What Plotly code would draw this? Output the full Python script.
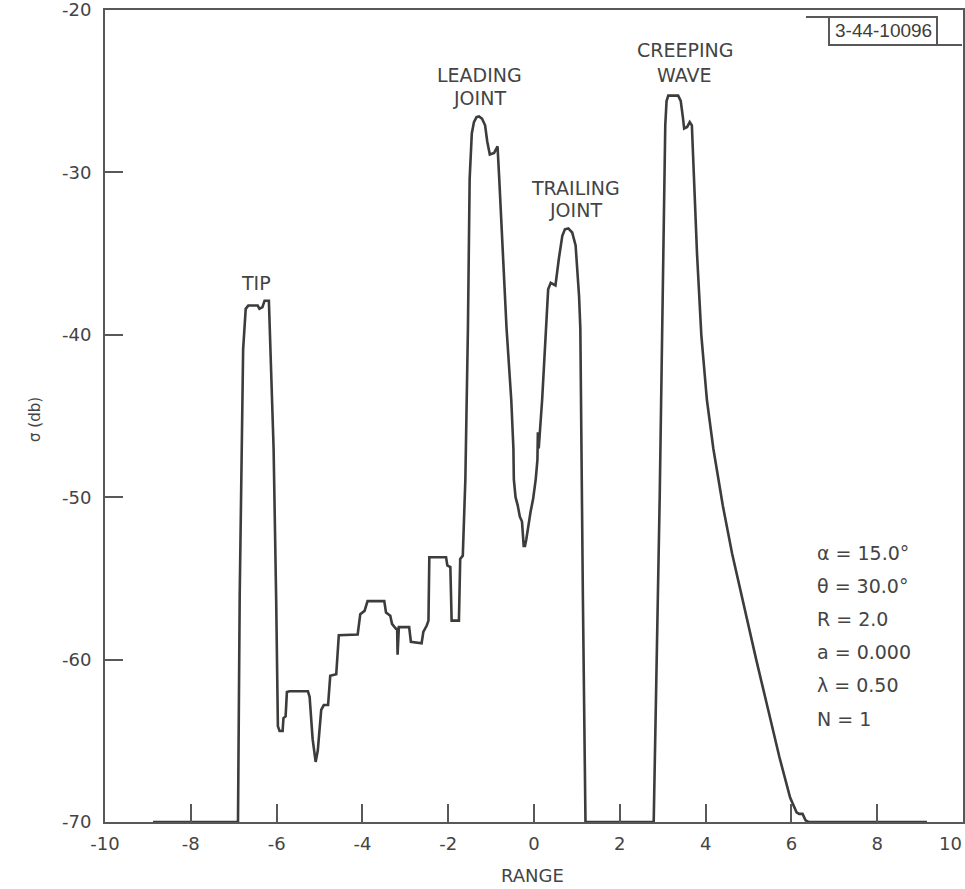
import plotly.graph_objects as go

# ---- data ----
range_vals = [
    -8.88, -6.90, -6.86, -6.82, -6.78, -6.72, -6.66, -6.44, -6.40, -6.33, -6.28, -6.18,
    -6.14, -6.07, -6.01, -5.97, -5.93, -5.86, -5.84, -5.79, -5.76, -5.70, -5.27, -5.23,
    -5.16, -5.09, -5.04, -4.96, -4.90, -4.80, -4.75, -4.61, -4.55, -4.11, -4.05, -3.95,
    -3.88, -3.49, -3.45, -3.35, -3.31, -3.22, -3.19, -3.18, -3.15, -2.91, -2.87, -2.62,
    -2.58, -2.50, -2.46, -2.44, -2.05, -2.02, -1.95, -1.92, -1.75, -1.72, -1.66, -1.60,
    -1.54, -1.50, -1.45, -1.40, -1.34, -1.28, -1.21, -1.14, -1.09, -1.03, -0.93, -0.85,
    -0.81, -0.74, -0.64, -0.53, -0.48, -0.47, -0.45, -0.43, -0.38, -0.33, -0.28, -0.24,
    -0.21, -0.18, -0.08, -0.02, 0.04, 0.08, 0.09, 0.11, 0.19, 0.285, 0.33, 0.39, 0.50,
    0.58, 0.66, 0.72, 0.80, 0.89, 0.97, 1.05, 1.08, 1.14, 1.20, 2.79, 2.93, 3.02, 3.06,
    3.09, 3.13, 3.36, 3.42, 3.47, 3.50, 3.57, 3.63, 3.68, 3.74, 3.80, 3.90, 4.03, 4.18,
    4.40, 4.62, 4.90, 5.18, 5.45, 5.72, 5.97, 6.12, 6.18, 6.26, 6.33, 6.40, 9.16,
]
sigma_db = [
    -70.0, -70.0, -56.0, -47.0, -40.9, -38.4, -38.2, -38.2, -38.4, -38.3, -37.9, -37.9,
    -40.9, -47.0, -56.3, -64.1, -64.4, -64.4, -63.6, -63.5, -62.0, -61.95, -61.95, -62.3,
    -64.9, -66.3, -65.6, -63.1, -62.8, -62.8, -61.0, -60.9, -58.5, -58.45, -57.2, -57.0,
    -56.4, -56.4, -57.1, -57.3, -57.8, -58.1, -58.1, -59.7, -58.0, -58.0, -58.9, -59.0,
    -58.3, -57.9, -57.6, -53.7, -53.7, -54.2, -54.3, -57.6, -57.6, -53.8, -53.6, -48.9,
    -39.6, -30.4, -27.6, -26.9, -26.6, -26.55, -26.7, -27.1, -28.1, -28.9, -28.8, -28.4,
    -30.4, -34.5, -39.6, -44.0, -47.0, -48.9, -49.6, -50.0, -50.5, -51.2, -51.5, -53.0,
    -53.0, -52.6, -50.9, -50.1, -48.9, -47.7, -46.0, -47.0, -44.0, -39.6, -37.2, -36.8,
    -36.96, -35.3, -33.9, -33.5, -33.45, -33.7, -34.5, -37.6, -39.6, -56.3, -70.0, -70.0,
    -50.0, -34.1, -27.1, -25.6, -25.27, -25.27, -25.6, -26.6, -27.3, -27.2, -26.9, -27.1,
    -31.2, -35.0, -40.0, -44.0, -47.0, -50.5, -53.5, -56.8, -60.0, -63.0, -66.0, -68.5,
    -69.4, -69.5, -69.5, -69.9, -70.0, -70.0,
]
x_ticks = [-10, -8, -6, -4, -2, 0, 2, 4, 6, 8, 10]
x_tick_labels = ["-10", "-8", "-6", "-4", "-2", "0", "2", "4", "6", "8", "10"]
y_ticks = [-70, -60, -50, -40, -30, -20]
y_tick_labels = ["-70", "-60", "-50", "-40", "-30", "-20"]

peak_labels = ["TIP", "LEADING", "JOINT", "TRAILING", "JOINT", "CREEPING", "WAVE"]
peak_label_x = [-6.48, -1.26, -1.28, 0.967, 0.956, 3.52, 3.50]
peak_label_y = [-36.81, -24.0, -25.42, -30.96, -32.32, -22.46, -24.0]

param_lines = ["α = 15.0°", "θ = 30.0°", "R = 2.0", "a = 0.000", "λ = 0.50", "N = 1"]
drawing_id = "3-44-10096"

# ---- styling ----
INK = "#3b3d3a"
AXIS = "#585858"
TEXT = "#444444"
FONT = "DejaVu Sans"

W, H = 965, 889
L, R, T, B = 105, 2, 10, 67
PW, PH = W - L - R, H - T - B


def px(xp):
    return (xp - L) / PW


def py(yp):
    return (H - B - yp) / PH


fig = go.Figure()
fig.add_trace(go.Scatter(
    x=range_vals, y=sigma_db, mode="lines",
    line=dict(color=INK, width=2.6), hoverinfo="skip", showlegend=False,
))

annotations = []
for t, xv, yv in zip(peak_labels, peak_label_x, peak_label_y):
    annotations.append(dict(x=xv, y=yv, xref="x", yref="y", text=t, showarrow=False,
                            font=dict(family=FONT, size=19, color=TEXT),
                            xanchor="center", yanchor="middle"))

param_y_px = [553, 586, 619, 652, 685, 719]
for t, yp in zip(param_lines, param_y_px):
    annotations.append(dict(x=px(815), y=py(yp), xref="paper", yref="paper", text=t,
                            showarrow=False, font=dict(family=FONT, size=19, color=TEXT),
                            xanchor="left", yanchor="middle"))

annotations.append(dict(x=px(883), y=py(31), xref="paper", yref="paper", text=drawing_id,
                        showarrow=False, font=dict(family="Liberation Sans", size=19, color="#3e3e36"),
                        xanchor="center", yanchor="middle"))
annotations.append(dict(x=px(532), y=py(875), xref="paper", yref="paper", text="RANGE",
                        showarrow=False, font=dict(family=FONT, size=18, color=TEXT),
                        xanchor="center", yanchor="middle"))
annotations.append(dict(x=px(35), y=py(420), xref="paper", yref="paper", text="σ (db)",
                        showarrow=False, textangle=-90,
                        font=dict(family=FONT, size=15, color=TEXT),
                        xanchor="center", yanchor="middle"))
# last x tick label sits at the very edge of the page: keep it fully inside
annotations.append(dict(x=px(964), y=py(844), xref="paper", yref="paper", text=x_tick_labels[-1],
                        showarrow=False, font=dict(family=FONT, size=18, color=TEXT),
                        xanchor="right", yanchor="middle", xshift=0))
shown_x_labels = x_tick_labels[:-1] + [""]

shapes = [
    dict(type="rect", xref="paper", yref="paper", x0=px(829), x1=px(937), y0=py(45), y1=py(17),
         line=dict(color=AXIS, width=2)),
    dict(type="line", xref="paper", yref="paper", x0=px(806), x1=px(829), y0=py(17), y1=py(17),
         line=dict(color=AXIS, width=2)),
    dict(type="line", xref="paper", yref="paper", x0=px(937), x1=px(962), y0=py(45), y1=py(45),
         line=dict(color=AXIS, width=2)),
]

axis_common = dict(showgrid=False, zeroline=False, showline=True, linecolor=AXIS, linewidth=2,
                   mirror=True, ticks="inside", ticklen=18, tickwidth=2, tickcolor=AXIS,
                   ticklabeloverflow="allow", automargin=False,
                   tickfont=dict(family=FONT, size=18, color=TEXT))

fig.update_layout(
    width=W, height=H,
    margin=dict(l=L, r=R, t=T, b=B, pad=0, autoexpand=False),
    paper_bgcolor="white", plot_bgcolor="white",
    xaxis=dict(range=[-10, 10], tickmode="array", tickvals=x_ticks, ticktext=shown_x_labels,
               ticklabelstandoff=4, **axis_common),
    yaxis=dict(range=[-70, -20], tickmode="array", tickvals=y_ticks, ticktext=y_tick_labels,
               ticklabelstandoff=8, **axis_common),
    annotations=annotations,
    shapes=shapes,
    showlegend=False,
)

fig.write_html("out.html")
